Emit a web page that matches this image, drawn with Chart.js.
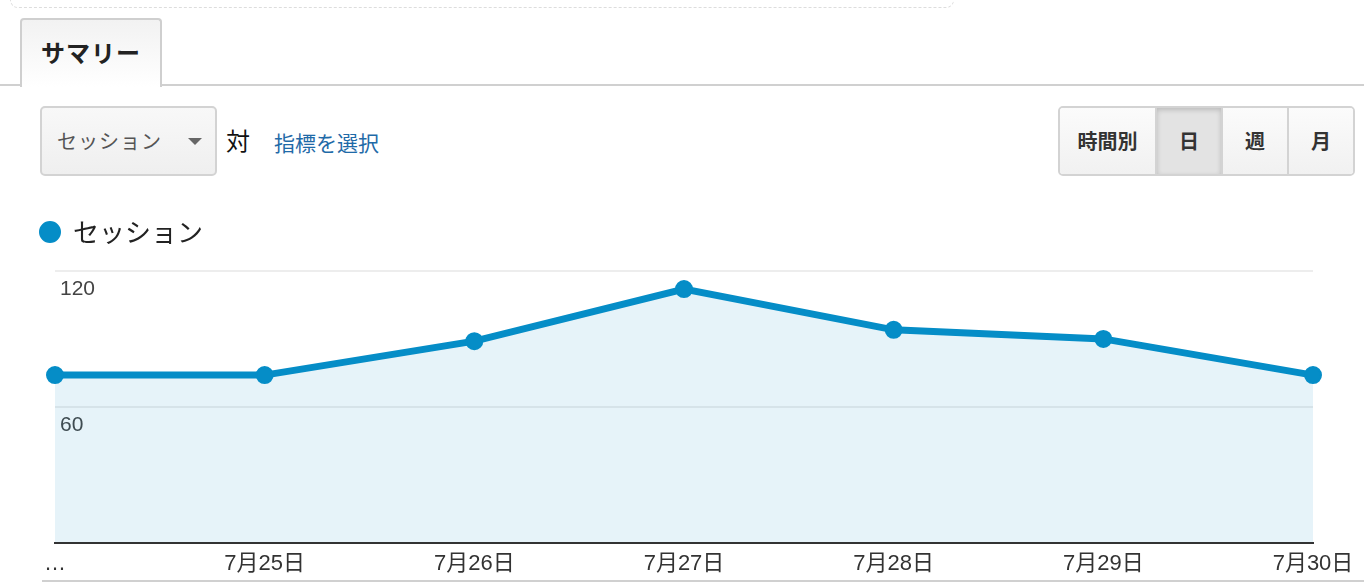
<!DOCTYPE html>
<html lang="ja">
<head>
<meta charset="utf-8">
<title>サマリー</title>
<script src="https://cdn.jsdelivr.net/npm/chart.js@4.4.1/dist/chart.umd.min.js"></script>
<style>
  html, body { margin: 0; padding: 0; background: #fff; }
  body {
    width: 1364px; height: 586px; position: relative; overflow: hidden;
    font-family: "Liberation Sans", Arial, "Noto Sans CJK JP", sans-serif;
  }
  .dashbox {
    position: absolute; left: 10px; top: -50px; width: 942px; height: 56px;
    border: 1px dashed #ddd; border-radius: 8px;
  }
  .tabline { position: absolute; left: 0; top: 84px; width: 1364px; border-top: 2px solid #d0d0d0; }
  .tab {
    position: absolute; left: 20px; top: 18px; width: 138px; height: 67px;
    border: 2px solid #cfcfcf; border-bottom: none; border-radius: 4px 4px 0 0;
    background: linear-gradient(#f2f2f2, #fff);
    font: bold 24px "Noto Sans CJK JP", sans-serif; color: #222;
    text-align: center; line-height: 64px; letter-spacing: 1px;
  }
  .select {
    position: absolute; left: 40px; top: 106px; width: 173px; height: 66px;
    border: 2px solid #d3d3d3; border-radius: 5px;
    background: linear-gradient(#f8f8f8, #efefef);
    font: 20px "Noto Sans CJK JP", sans-serif; color: #555; letter-spacing: 1px;
  }
  .select span { position: absolute; left: 15px; top: 18px; }
  .caret {
    position: absolute; left: 146px; top: 30px; width: 0; height: 0;
    border-left: 7px solid transparent; border-right: 7px solid transparent; border-top: 7px solid #666;
  }
  .vs { position: absolute; left: 226px; top: 122px; font: 24px "Noto Sans CJK JP", sans-serif; color: #111; }
  .pick { position: absolute; left: 274px; top: 127px; font: 21px "Noto Sans CJK JP", sans-serif; color: #1f6aa8; }
  .btns {
    position: absolute; left: 1058px; top: 106px; height: 66px; display: flex;
    border: 2px solid #d3d3d3; border-radius: 5px; overflow: hidden;
  }
  .btns div {
    height: 66px; text-align: center;
    font: bold 20px "Noto Sans CJK JP", sans-serif; color: #333; line-height: 66px;
    background: linear-gradient(#fbfbfb, #f1f1f1); border-left: 2px solid #d3d3d3;
  }
  .btns div:first-child { border-left: none; width: 95px; }
  .btns .on { background: #e3e3e3; box-shadow: inset 0 2px 5px rgba(0,0,0,0.18); }
  .wrap { position: absolute; left: 0; top: 195px; width: 1364px; height: 391px; }
  .slider { position: absolute; left: 42px; top: 580px; width: 1322px; border-top: 2px solid #d0d0d0; }
</style>
</head>
<body>
<div class="dashbox"></div>
<div class="tabline"></div>
<div class="tab">サマリー</div>
<div class="select"><span>セッション</span><i class="caret"></i></div>
<div class="vs">対</div>
<div class="pick">指標を選択</div>
<div class="btns">
  <div>時間別</div>
  <div class="on" style="width:64px">日</div>
  <div style="width:64px">週</div>
  <div style="width:64px">月</div>
</div>
<div class="slider"></div>
<div class="wrap"><canvas id="sessionChart"></canvas></div>

<script>
// chart data
const dayLabels = ['…', '7月25日', '7月26日', '7月27日', '7月28日', '7月29日', '7月30日'];
const sessions = [74, 74, 89, 112, 94, 90, 74];
const yTicks = [0, 60, 120];

const seriesName = 'セッション';
const lineColor = '#058dc7';

// push the plot area down a bit below the legend
const legendGap = {
    id: 'legendGap',
    beforeInit(chart) {
        const fit = chart.legend.fit;
        chart.legend.fit = function () {
            fit.bind(chart.legend)();
            this.height += 16;
        };
    }
};

const ctx = document.getElementById('sessionChart');
const sessionChart = new Chart(ctx, {
    type: 'line',
    data: {
        labels: dayLabels,
        datasets: [{
            label: seriesName,
            data: sessions,
            borderColor: lineColor,
            backgroundColor: 'rgba(5, 141, 199, 0.1)',
            borderWidth: 7,
            fill: 'origin',
            tension: 0,
            pointRadius: 8,
            pointBorderWidth: 2,
            pointBackgroundColor: lineColor,
            pointBorderColor: lineColor,
            clip: false
        }]
    },
    options: {
        responsive: true,
        maintainAspectRatio: false,
        animation: false,
        layout: { padding: { left: 30, right: 51, top: 14, bottom: 1 } },
        plugins: {
            legend: {
                position: 'top',
                align: 'start',
                labels: {
                    usePointStyle: true,
                    pointStyle: 'circle',
                    boxHeight: 14.2,
                    pointStyleWidth: 20,
                    padding: 10,
                    color: '#222',
                    font: { family: '"Noto Sans CJK JP", sans-serif', size: 26 }
                }
            },
            tooltip: { enabled: false }
        },
        scales: {
            x: {
                grid: { display: false, drawTicks: false },
                border: { color: '#333', width: 2 },
                ticks: {
                    autoSkip: false,
                    maxRotation: 0,
                    padding: 8,
                    color: '#333',
                    font: { family: '"Liberation Sans", "Noto Sans CJK JP", sans-serif', size: 22 }
                }
            },
            y: {
                min: 0,
                max: 120,
                afterFit(scale) { scale.width = 25; },
                afterBuildTicks(scale) { scale.ticks = yTicks.map(v => ({ value: v })); },
                grid: { color: 'rgba(0, 0, 0, 0.07)', lineWidth: 2, drawTicks: false },
                border: { display: false },
                ticks: {
                    mirror: true,
                    padding: 5,
                    labelOffset: 18,
                    color: '#444',
                    textStrokeColor: '#fff',
                    textStrokeWidth: 4,
                    font: { family: '"Liberation Sans", Arial, sans-serif', size: 21 },
                    callback: (v) => (v === 0 ? '' : v)
                }
            }
        }
    },
    plugins: [legendGap]
});
</script>
</body>
</html>
